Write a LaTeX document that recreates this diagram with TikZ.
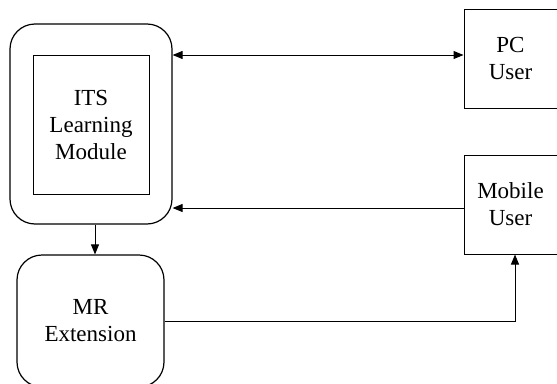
\documentclass[tikz,border=0pt]{standalone}
\usepackage{fontspec}
\setmainfont{Liberation Serif}
\usetikzlibrary{arrows.meta}

\begin{document}
\begin{tikzpicture}[x=1pt,y=-1pt,line width=1pt,
  >={Triangle[length=10pt,width=8pt]},
  box/.style={draw,align=center,inner sep=0pt,font=\fontsize{23}{27}\selectfont},
  roundbox/.style={box,line width=1.2pt,rounded corners=25pt}]

\useasboundingbox (0,0) rectangle (557,383);

\node[roundbox,minimum width=162,minimum height=200] (its) at (91,124) {};
\node[box,minimum width=116,minimum height=139] (itsin) at (91,124.5) {ITS\\ Learning\\ Module};

\node[roundbox,minimum width=147,minimum height=132] (mr) at (90.5,321) {MR\\ Extension};

\node[box,minimum width=93,minimum height=99] (pc) at (510.5,58.5) {PC\\ User};
\node[box,minimum width=93,minimum height=99] (mob) at (510.5,204.5) {Mobile\\ User};

\draw[<->] ([yshift=3.5]pc.west) -- ([yshift=3.5]pc.west -| its.east);
\draw[->] ([yshift=-3.5]mob.west) -- ([yshift=-3.5]mob.west -| its.east);
\draw[->] ([xshift=4]its.south) -- ([xshift=4]its.south |- mr.north);
\draw[->] (mr.east) -| ([xshift=4.5]mob.south);

\end{tikzpicture}
\end{document}
